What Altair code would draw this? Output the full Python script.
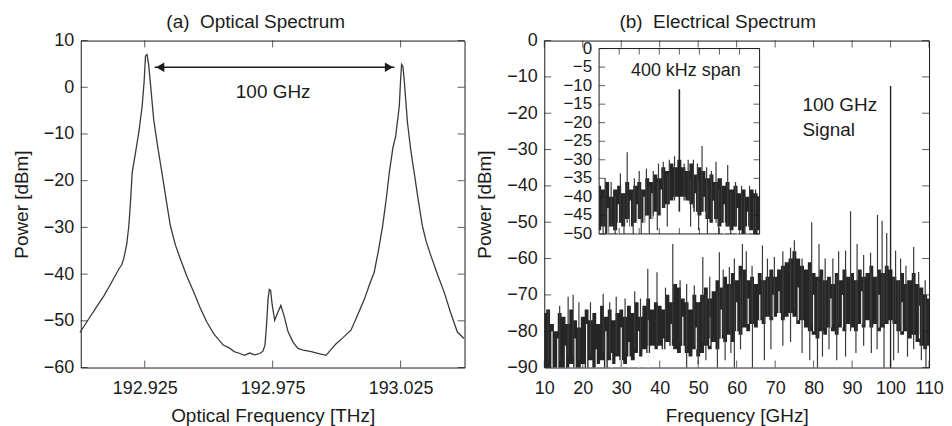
import altair as alt
import pandas as pd

FONT = "Liberation Sans"
INK = "#1b1b1b"
TRACE = "#262626"
LINE = "#3a3a3a"

# ---------------- (a) optical spectrum ----------------
opt_freq = [192.8997, 192.9032, 192.9060, 192.9091, 192.9120, 192.9149, 192.9160, 192.9168,
            192.9180, 192.9188, 192.9195, 192.9201, 192.9214, 192.9227, 192.9240, 192.9248,
            192.9253, 192.9259, 192.9265, 192.9272, 192.9285, 192.9300, 192.9317, 192.9335,
            192.9350, 192.9370, 192.9389, 192.9415, 192.9441, 192.9465, 192.9492, 192.9520,
            192.9557, 192.9580, 192.9600, 192.9622, 192.9640, 192.9660, 192.9680, 192.9700,
            192.9712, 192.9720, 192.9726, 192.9732, 192.9737, 192.9742, 192.9748, 192.9758,
            192.9770, 192.9782, 192.9795, 192.9810, 192.9830, 192.9849, 192.9870, 192.9901,
            192.9930, 192.9959, 192.9980, 192.9998, 193.0025, 193.0056, 193.0080, 193.0109,
            193.0130, 193.0147, 193.0165, 193.0180, 193.0195, 193.0206, 193.0220, 193.0231,
            193.0245, 193.0250, 193.0254, 193.0259, 193.0264, 193.0277, 193.0290, 193.0303,
            193.0320, 193.0335, 193.0350, 193.0368, 193.0395, 193.0420, 193.0447, 193.0472,
            193.0498]
opt_power = [-52.5, -49.5, -47.2, -44.6, -41.8, -38.9, -38.0, -36.7,
             -33.5, -29.6, -24.0, -18.2, -14.0, -9.6, -4.0, 1.5,
             6.7, 7.0, 5.0, 1.0, -6.9, -12.5, -18.2, -24.5,
             -29.6, -33.8, -36.7, -40.5, -43.8, -47.0, -50.2, -52.8,
             -55.2, -55.8, -56.6, -57.0, -57.4, -56.9, -57.3, -57.0,
             -56.5, -55.2, -51.0, -45.3, -43.3, -43.5, -46.5, -49.9,
             -48.2, -46.7, -49.0, -52.3, -54.6, -55.9, -56.3, -56.6,
             -57.0, -57.4, -56.0, -54.9, -53.6, -52.0, -49.0, -45.3,
             -42.0, -39.6, -34.5, -29.6, -23.5, -18.2, -13.0, -10.4,
             -4.0, 1.5, 4.9, 4.5, 1.7, -7.6, -13.5, -18.2,
             -24.5, -29.6, -33.0, -36.0, -40.2, -43.8, -48.5, -52.4,
             -53.8]
opt_arrow_freq = [192.9289, 193.0226]
opt_arrow_power = [4.3, 4.3]
opt_label = ["100 GHz"]
opt_label_freq = [192.9752]
opt_label_power = [-1.1]
opt_xticks = [192.925, 192.975, 193.025]
opt_yticks = [10, 0, -10, -20, -30, -40, -50, -60]

# ---------------- (b) electrical spectrum ----------------
el_freq = list(range(10, 111))
el_upper = [-75, -74, -78, -80, -75, -76, -78, -74, -77, -79,
            -76, -74, -77, -75, -78, -73, -76, -74, -77, -75,
            -74, -76, -73, -75, -72, -76, -73, -71, -74, -72,
            -73, -74, -70, -72, -67, -68, -71, -72, -74, -70,
            -72, -70, -68, -71, -69, -66, -68, -65, -67, -64,
            -66, -62, -63, -66, -65, -67, -64, -66, -65, -63,
            -65, -63, -62, -61, -60, -58, -60, -62, -63, -61,
            -64, -65, -63, -66, -65, -67, -64, -66, -63, -65,
            -64, -66, -63, -65, -64, -62, -65, -63, -64, -62,
            -63, -65, -66, -64, -67, -66, -64, -67, -68, -70, -71]
el_lower = [-90, -90, -90, -90, -90, -90, -90, -89, -90, -90,
            -89, -90, -88, -90, -89, -88, -90, -88, -89, -87,
            -88, -89, -87, -88, -86, -87, -85, -86, -84, -85,
            -84, -85, -83, -84, -85, -86, -84, -86, -87, -85,
            -87, -86, -84, -85, -83, -85, -82, -83, -81, -83,
            -80, -81, -79, -80, -78, -79, -77, -78, -76, -77,
            -76, -75, -77, -76, -75, -76, -78, -77, -79, -80,
            -81, -82, -80, -81, -79, -80, -81, -79, -80, -78,
            -79, -80, -78, -79, -77, -79, -78, -80, -79, -78,
            -77, -78, -80, -81, -80, -82, -81, -83, -84, -85, -84]
el_spike_f = [11.0, 14.0, 16.2, 17.5, 19.0, 22.0, 25.3, 27.0, 28.7, 31.0,
              33.5, 35.0, 36.9, 39.3, 41.5, 43.4, 45.3, 47.0, 49.0, 51.2,
              53.0, 55.5, 56.5, 58.1, 59.4, 61.5, 62.5, 64.0, 66.7, 68.0,
              69.8, 72.0, 74.0, 75.0, 77.0, 79.5, 81.4, 83.0, 85.0, 86.5,
              88.3, 89.6, 91.3, 93.0, 94.8, 96.6, 97.8, 99.0, 101.3, 102.6,
              104.0, 106.0, 107.3, 109.0]
el_spike_top = [-74, -73, -70.5, -70, -72, -72, -69.7, -72, -70.5, -71,
                -69, -71, -62.8, -63.8, -68, -56, -66, -67, -67.4, -59.6,
                -65, -58.3, -63, -62.3, -60, -56, -58, -62, -56.4, -60,
                -59.6, -58, -57, -55, -60, -50, -56, -60, -60, -58,
                -57.8, -47, -56, -59, -58.4, -48, -49.6, -53, -57.8, -60,
                -62, -56.8, -63.7, -66]
el_spike_bot = [-88, -88, -87, -87, -88, -87, -86, -87, -86, -86,
                -85, -85, -84, -84, -83, -82, -83, -84, -84, -83,
                -82, -82, -81, -80, -80, -78, -78, -77, -76, -76,
                -75, -75, -74, -74, -76, -78, -79, -79, -78, -78,
                -78, -80, -78, -78, -77, -77, -78, -77, -77, -79,
                -79, -80, -81, -83]
el_drop_f = [47.0, 50.0, 52.0, 55.0, 57.0, 58.5, 59.4, 61.0, 64.1, 67.2,
             68.9, 72.0, 74.0, 77.0, 79.0, 81.0, 82.3, 84.0, 86.0, 88.3,
             91.0, 93.0, 95.0, 96.5, 98.3, 100.8, 102.0, 104.4, 106.0, 108.0,
             109.2]
el_drop_top = [-74, -72, -70, -69, -68, -67, -66, -65, -66, -66,
               -65, -64, -62, -63, -63, -66, -65, -66, -65, -64,
               -66, -65, -64, -65, -64, -65, -66, -66, -65, -70,
               -72]
el_drop_bot = [-90, -89, -88, -90, -88, -86, -90, -85, -90, -88,
               -85, -84, -83, -86, -88, -90, -87, -85, -88, -87,
               -86, -84, -86, -85, -90, -88, -86, -87, -85, -88,
               -90]
el_gap_f = [12.0, 13.5, 15.5, 18.0, 21.0, 23.5, 26.0, 27.5, 30.0, 32.0,
            34.5, 37.0, 38.5, 41.0, 43.0, 46.0, 49.5, 53.0, 56.0, 60.0,
            63.0, 66.0, 69.5, 71.0, 76.0, 80.0, 84.5, 87.5, 92.5, 97.0,
            103.0, 107.5]
el_gap_top = [-80, -82, -84, -82, -78, -85, -80, -86, -79, -83,
              -80, -77, -84, -82, -78, -76, -79, -76, -74, -72,
              -71, -70, -70, -69, -68, -70, -71, -70, -69, -70,
              -72, -73]
el_gap_bot = [-90, -90, -90, -90, -90, -90, -90, -90, -90, -90,
              -90, -90, -88, -86, -86, -84, -85, -84, -82, -80,
              -78, -77, -76, -75, -77, -80, -79, -79, -78, -79,
              -80, -82]
el_signal_f = [100.0]
el_signal_top = [-12.5]
el_signal_bot = [-90.0]
el_text = ["100 GHz", "Signal"]
el_text_f = [77.1, 77.1]
el_text_p = [-17.8, -24.7]
el_xticks = [10, 20, 30, 40, 50, 60, 70, 80, 90, 100, 110]
el_yticks = [0, -10, -20, -30, -40, -50, -60, -70, -80, -90]

# ---------------- inset: 400 kHz span ----------------
in_freq = list(range(-200, 201, 10))
in_upper = [-37, -38, -36, -40, -38, -37, -39, -36, -38, -37,
            -36, -38, -35, -36, -34, -35, -32, -33, -31, -32,
            -30,
            -32, -33, -31, -34, -32, -33, -35, -34, -36, -35,
            -37, -36, -38, -37, -39, -38, -40, -38, -39, -40]
in_lower = [-49, -48, -50, -48, -49, -47, -48, -46, -48, -47,
            -46, -47, -45, -46, -44, -45, -43, -42, -41, -40,
            -40,
            -40, -41, -42, -44, -45, -44, -46, -47, -46, -48,
            -47, -48, -49, -48, -49, -50, -48, -49, -50, -49]
in_spike_f = [-185, -170, -147, -130, -112, -100, -82, -65, -52, -40,
              -25, -12, 12, 22, 35, 45, 56.6, 68, 80, 91.4,
              105, 120.5, 140, 155, 175, 190]
in_spike_top = [-35, -36, -33.7, -28, -35, -33, -32.4, -33, -31, -30.5,
                -30, -29, -31, -30, -30, -31, -26.3, -32, -33, -30.5,
                -35, -31.4, -36, -37, -37, -38]
in_spike_bot = [-48, -48, -47, -47, -47, -46, -45, -45, -44, -43,
                -42, -41, -41, -41, -43, -44, -44, -45, -46, -47,
                -47, -48, -48, -49, -49, -49]
in_drop_f = [-190, -160, -138, -115, -95, -75, -55, -30, 28, 48, 70, 98, 128, 162, 185]
in_drop_top = [-40, -40, -39, -39, -38, -37, -36, -34, -35, -36, -37, -38, -39, -40, -40]
in_drop_bot = [-50, -50, -50, -50, -50, -50, -49, -48, -48, -49, -50, -50, -50, -50, -50]
in_gap_f = [-178, -152, -122, -105, -88, -68, -45, 40, 62, 85, 112, 145, 170]
in_gap_top = [-43, -42, -41, -42, -40, -39, -38, -39, -40, -41, -42, -43, -44]
in_gap_bot = [-50, -50, -49, -50, -48, -47, -46, -46, -47, -49, -50, -50, -50]
in_signal_f = [0.0]
in_signal_top = [-11.0]
in_signal_bot = [-44.0]
in_text = ["400 kHz span"]
in_text_f = [16.0]
in_text_p = [-6.0]
in_xticks = [-150, -100, -50, 0, 50, 100, 150]
in_yticks = [0, -5, -10, -15, -20, -25, -30, -35, -40, -45, -50]
in_ylabels = [str(v).replace("-", "\u2212") for v in in_yticks]


# ---------------- helpers ----------------
class Frame:
    def __init__(self, xdom, ydom, xaxis, yaxis, xrange=None, yrange=None):
        self.xdom, self.ydom = xdom, ydom
        if xrange is None:
            self.xs = alt.Scale(domain=xdom, nice=False, zero=False)
        else:
            self.xs = alt.Scale(domain=xdom, range=xrange, nice=False, zero=False)
        if yrange is None:
            self.ys = alt.Scale(domain=ydom, nice=False, zero=False)
        else:
            self.ys = alt.Scale(domain=ydom, range=yrange, nice=False, zero=False)
        self.xa, self.ya = xaxis, yaxis

    def x(self, f):
        return alt.X(f, type="quantitative", scale=self.xs, axis=self.xa)

    def y(self, f):
        return alt.Y(f, type="quantitative", scale=self.ys, axis=self.ya)

    def xd(self, v):
        return alt.XDatum(v, type="quantitative", scale=self.xs, axis=self.xa)

    def yd(self, v):
        return alt.YDatum(v, type="quantitative", scale=self.ys, axis=self.ya)

    def ticks(self, xt, yt, length=7):
        half = length / 2
        xdf = pd.DataFrame({"t": xt})
        ydf = pd.DataFrame({"t": yt})
        v = dict(orient="vertical", size=length, thickness=1, color=INK)
        h = dict(orient="horizontal", size=length, thickness=1, color=INK)
        return [
            alt.Chart(xdf).mark_tick(yOffset=half, **v).encode(x=self.x("t"), y=self.yd(self.ydom[1])),
            alt.Chart(xdf).mark_tick(yOffset=-half, **v).encode(x=self.x("t"), y=self.yd(self.ydom[0])),
            alt.Chart(ydf).mark_tick(xOffset=half, **h).encode(y=self.y("t"), x=self.xd(self.xdom[0])),
            alt.Chart(ydf).mark_tick(xOffset=-half, **h).encode(y=self.y("t"), x=self.xd(self.xdom[1])),
        ]

    def rules(self, f, top, bot, color, width=1.0):
        df = pd.DataFrame({"f": f, "top": top, "bot": bot})
        return alt.Chart(df).mark_rule(color=color, strokeWidth=width).encode(
            x=self.x("f"), y=self.y("top"), y2=alt.Y2("bot"))


def x_axis(values, title, fmt):
    return alt.Axis(values=values, title=title, format=fmt, labelFlush=False,
                    labelOverlap=False, labelPadding=12, titlePadding=9)


def y_axis(values, title):
    return alt.Axis(values=values, title=title, format="d", labelOverlap=False,
                    labelPadding=7, titlePadding=12)


W_A, W_B, H = 385, 386, 328

# ---------------- panel (a) ----------------
fa = Frame([192.90, 193.05], [-60, 10],
           x_axis(opt_xticks, "Optical Frequency [THz]", ".3f"),
           y_axis(opt_yticks, "Power [dBm]"))

opt_df = pd.DataFrame({"f": opt_freq, "p": opt_power})
arrow_df = pd.DataFrame({"f": opt_arrow_freq, "p": opt_arrow_power})
a_layers = [
    alt.Chart(opt_df).mark_line(color=LINE, strokeWidth=1.3).encode(x=fa.x("f"), y=fa.y("p")),
    alt.Chart(arrow_df).mark_line(color=INK, strokeWidth=1.6).encode(x=fa.x("f"), y=fa.y("p")),
    alt.Chart(arrow_df.iloc[[0]]).mark_point(shape="triangle-left", filled=True, size=90,
                                             color=INK, opacity=1, xOffset=5.5)
       .encode(x=fa.x("f"), y=fa.y("p")),
    alt.Chart(arrow_df.iloc[[1]]).mark_point(shape="triangle-right", filled=True, size=90,
                                             color=INK, opacity=1, xOffset=-5.5)
       .encode(x=fa.x("f"), y=fa.y("p")),
    alt.Chart(pd.DataFrame({"f": opt_label_freq, "p": opt_label_power, "t": opt_label}))
       .mark_text(font=FONT, fontSize=19, color=INK)
       .encode(x=fa.x("f"), y=fa.y("p"), text="t:N"),
] + fa.ticks(opt_xticks, opt_yticks)

panel_a = alt.layer(*a_layers).properties(
    width=W_A, height=H,
    title=alt.Title("(a)\u00a0 Optical Spectrum", dx=-17, offset=0))

# ---------------- panel (b) ----------------
fb = Frame([10, 110], [-90, 0],
           x_axis(el_xticks, "Frequency [GHz]", "d"),
           y_axis(el_yticks, "Power [dBm]"))

band_df = pd.DataFrame({"f": el_freq, "up": el_upper, "lo": el_lower})
b_main = [
    alt.Chart(band_df).mark_area(color=TRACE, opacity=1, interpolate="step").encode(
        x=fb.x("f"), y=fb.y("up"), y2=alt.Y2("lo")),
    fb.rules(el_gap_f, el_gap_top, el_gap_bot, "#f2f2f2", 1.2),
    fb.rules(el_spike_f, el_spike_top, el_spike_bot, "#3a3a3a", 1.2),
    fb.rules(el_drop_f, el_drop_top, el_drop_bot, "#3a3a3a", 1.2),
    fb.rules(el_signal_f, el_signal_top, el_signal_bot, "#222222", 1.4),
    alt.Chart(pd.DataFrame({"f": el_text_f, "p": el_text_p, "t": el_text}))
       .mark_text(font=FONT, fontSize=19, color=INK, align="left")
       .encode(x=fb.x("f"), y=fb.y("p"), text="t:N"),
] + fb.ticks(el_xticks, el_yticks)

fi = Frame([-200, 200], [-50, 0], None, None, xrange=[55, 216], yrange=[194, 8])
in_band = pd.DataFrame({"f": in_freq, "up": in_upper, "lo": in_lower})
one = pd.DataFrame({"k": [0]})
b_inset = [
    alt.Chart(one).mark_rect(fill="white", stroke=INK, strokeWidth=1).encode(
        x=fi.xd(-200), x2=alt.X2Datum(200), y=fi.yd(-50), y2=alt.Y2Datum(0)),
    alt.Chart(in_band).mark_area(color=TRACE, opacity=1, interpolate="step").encode(
        x=fi.x("f"), y=fi.y("up"), y2=alt.Y2("lo")),
    fi.rules(in_gap_f, in_gap_top, in_gap_bot, "#f2f2f2", 1.2),
    fi.rules(in_spike_f, in_spike_top, in_spike_bot, "#3a3a3a", 1.2),
    fi.rules(in_drop_f, in_drop_top, in_drop_bot, "#3a3a3a", 1.2),
    fi.rules(in_signal_f, in_signal_top, in_signal_bot, "#222222", 1.6),
    alt.Chart(pd.DataFrame({"f": in_text_f, "p": in_text_p, "t": in_text}))
       .mark_text(font=FONT, fontSize=18, color=INK)
       .encode(x=fi.x("f"), y=fi.y("p"), text="t:N"),
    alt.Chart(pd.DataFrame({"p": in_yticks, "t": in_ylabels}))
       .mark_text(font=FONT, fontSize=17, color=INK, align="right", baseline="middle", dx=-7)
       .encode(x=fi.xd(-200), y=fi.y("p"), text="t:N"),
] + fi.ticks(in_xticks, in_yticks, length=6)

panel_b = alt.layer(alt.layer(*b_main), alt.layer(*b_inset)).resolve_scale(
    x="independent", y="independent").properties(
    width=W_B, height=H,
    title=alt.Title("(b)\u00a0 Electrical Spectrum", dx=-19, offset=0))

chart = alt.hconcat(panel_a, panel_b, spacing=80, bounds="flush").properties(
    background="white", padding={"left": 3, "top": 3, "right": 0, "bottom": 0}
).configure(font=FONT).configure_view(stroke=INK, strokeWidth=1).configure_axis(
    labelFont=FONT, labelFontSize=18, labelColor=INK,
    titleFont=FONT, titleFontSize=19, titleFontWeight="normal", titleColor=INK,
    ticks=False, domain=False, grid=False
).configure_title(font=FONT, fontSize=19, fontWeight="normal", color=INK, anchor="middle")

chart.save("out.html", embed_options={"renderer": "svg", "actions": False})
